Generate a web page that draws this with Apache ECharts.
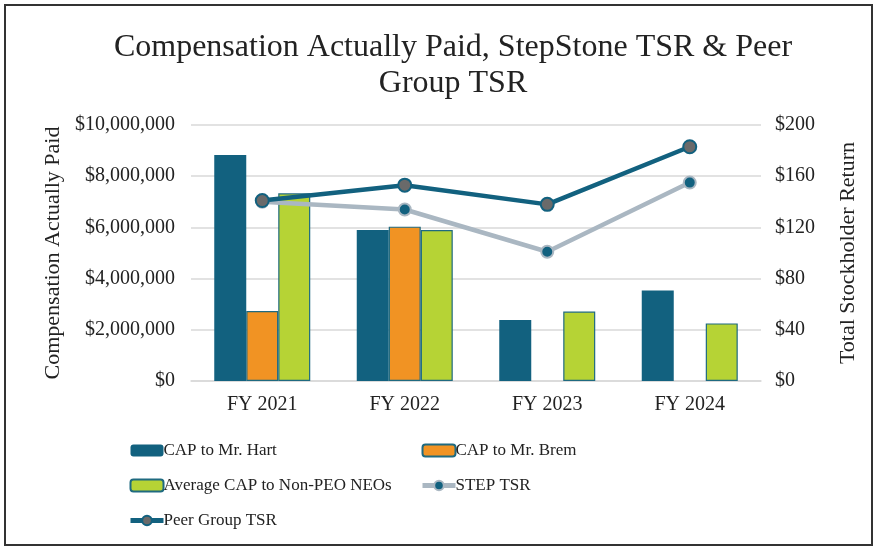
<!DOCTYPE html>
<html>
<head>
<meta charset="utf-8">
<script src="https://cdn.jsdelivr.net/npm/echarts@6/dist/echarts.min.js"></script>
<style>
  html, body { margin: 0; padding: 0; background: #fff; }
  #frame { position: absolute; left: 4px; top: 4px; width: 865px; height: 538px; border: 2px solid #333; }
  #chart { position: absolute; left: 0; top: 0; width: 877px; height: 550px; }
</style>
</head>
<body>
<div id="frame"></div>
<div id="chart"></div>
<script>
// chart data
var categories = ['FY 2021', 'FY 2022', 'FY 2023', 'FY 2024'];
var capHart = [8830000, 5900000, 2380000, 3540000];
var capBrem = [2730000, 6030000, null, null];
var capNonPeo = [7330000, 5900000, 2710000, 2250000];
var stepTsr = [140, 134, 101, 155];
var peerTsr = [141, 153, 138, 183];

var fontFam = '"Liberation Serif", "DejaVu Serif", serif';
var teal = '#12617f';
var steel = '#aab7c2';

function money(v) {
    return '$' + v.toLocaleString('en-US');
}

var legendText = { fontFamily: fontFam, fontSize: 17, color: '#222', padding: [0, 0, 0, -5] };

var chart = echarts.init(document.getElementById('chart'));
var option = {
    backgroundColor: 'transparent',
    textStyle: { fontFamily: fontFam, color: '#222' },
    title: {
        text: 'Compensation Actually Paid, StepStone TSR & Peer\nGroup TSR',
        left: 448,
        textAlign: 'center',
        top: 25,
        textStyle: { fontFamily: fontFam, fontSize: 32, fontWeight: 'normal', color: '#222', lineHeight: 36 }
    },
    legend: [
        {
            orient: 'vertical',
            left: 123, top: 437,
            itemWidth: 33, itemHeight: 12, itemGap: 18,
            textStyle: legendText,
            data: [
                'CAP to Mr. Hart',
                'Average CAP to Non-PEO NEOs',
                { name: 'Peer Group TSR', lineStyle: { width: 5 } }
            ]
        },
        {
            orient: 'vertical',
            left: 415, top: 437,
            itemWidth: 33, itemHeight: 12, itemGap: 18,
            textStyle: legendText,
            data: [
                'CAP to Mr. Brem',
                { name: 'STEP TSR', lineStyle: { width: 5 } }
            ]
        }
    ],
    grid: { left: 191, right: 116, top: 125, bottom: 169 },
    xAxis: {
        type: 'category',
        data: categories,
        axisTick: { show: false },
        axisLine: { lineStyle: { color: '#d9d9d9', width: 1.5 } },
        axisLabel: { fontFamily: fontFam, fontSize: 20, color: '#222', margin: 14 }
    },
    yAxis: [
        {
            type: 'value',
            min: 0, max: 10000000, interval: 2000000,
            name: 'Compensation Actually Paid',
            nameLocation: 'middle',
            nameGap: 121,
            nameTextStyle: { fontFamily: fontFam, fontSize: 22, color: '#222' },
            axisLabel: { fontFamily: fontFam, fontSize: 20, color: '#222', margin: 16, formatter: money },
            splitLine: { lineStyle: { color: '#d9d9d9', width: 1.5 } }
        },
        {
            type: 'value',
            min: 0, max: 200, interval: 40,
            name: 'Total Stockholder Return',
            nameLocation: 'middle',
            nameGap: 76,
            nameTextStyle: { fontFamily: fontFam, fontSize: 22, color: '#222' },
            axisLabel: { fontFamily: fontFam, fontSize: 20, color: '#222', margin: 14, formatter: function (v) { return '$' + v; } },
            splitLine: { show: false }
        }
    ],
    series: [
        {
            name: 'CAP to Mr. Hart', type: 'bar', data: capHart,
            barWidth: 32, barGap: '0%',
            itemStyle: { color: teal }
        },
        {
            name: 'CAP to Mr. Brem', type: 'bar', data: capBrem,
            barWidth: 32, barGap: '0%',
            itemStyle: { color: '#f19323', borderColor: '#1f6a80', borderWidth: 1.2 }
        },
        {
            name: 'Average CAP to Non-PEO NEOs', type: 'bar', data: capNonPeo,
            barWidth: 32, barGap: '0%',
            itemStyle: { color: '#b6d335', borderColor: '#1f6a80', borderWidth: 1.2 }
        },
        {
            name: 'STEP TSR', type: 'line', yAxisIndex: 1, data: stepTsr,
            symbol: 'circle', symbolSize: 12,
            lineStyle: { color: steel, width: 4.5 },
            itemStyle: { color: teal, borderColor: steel, borderWidth: 2 }
        },
        {
            name: 'Peer Group TSR', type: 'line', yAxisIndex: 1, data: peerTsr,
            symbol: 'circle', symbolSize: 13,
            lineStyle: { color: teal, width: 4.5 },
            itemStyle: { color: '#6a6a6a', borderColor: teal, borderWidth: 2 }
        }
    ]
};
chart.setOption(option);
</script>
</body>
</html>
